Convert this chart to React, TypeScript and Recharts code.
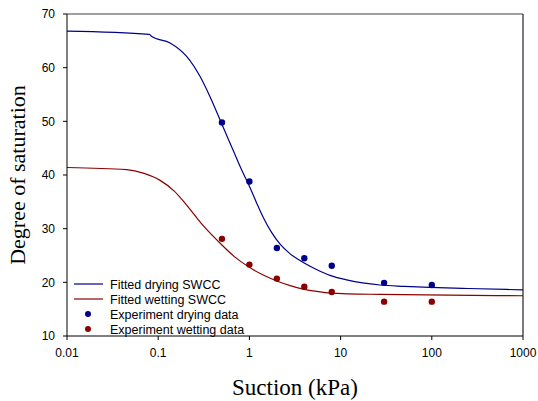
import React from 'react'
import {
  ComposedChart,
  Line,
  Scatter,
  XAxis,
  YAxis,
  ReferenceLine,
  Label,
} from 'recharts'

// fitted curves (suction kPa, degree of saturation)
const dryingCurve = [
  { x: 0.01, y: 66.8 },
  { x: 0.08, y: 66.2 },
  { x: 0.085, y: 65.8 },
  { x: 0.135, y: 64.6 },
  { x: 0.205, y: 62.1 },
  { x: 0.287, y: 58.4 },
  { x: 0.37, y: 54.6 },
  { x: 0.49, y: 49.8 },
  { x: 0.58, y: 46.9 },
  { x: 0.667, y: 44.5 },
  { x: 0.8, y: 41.4 },
  { x: 1, y: 37.9 },
  { x: 1.2, y: 34.8 },
  { x: 1.42, y: 32.1 },
  { x: 1.75, y: 29.3 },
  { x: 2.17, y: 27.1 },
  { x: 2.8, y: 25.3 },
  { x: 3.9, y: 23.7 },
  { x: 5.3, y: 22.5 },
  { x: 7.65, y: 21.3 },
  { x: 12, y: 20.4 },
  { x: 27, y: 19.5 },
  { x: 50, y: 19.25 },
  { x: 95, y: 19.05 },
  { x: 250, y: 18.85 },
  { x: 1000, y: 18.6 },
]

const wettingCurve = [
  { x: 0.01, y: 41.4 },
  { x: 0.045, y: 41.0 },
  { x: 0.07, y: 40.3 },
  { x: 0.105, y: 39.0 },
  { x: 0.15, y: 37.0 },
  { x: 0.205, y: 34.4 },
  { x: 0.31, y: 30.6 },
  { x: 0.49, y: 27.1 },
  { x: 0.695, y: 24.7 },
  { x: 1, y: 22.8 },
  { x: 1.4, y: 21.4 },
  { x: 1.96, y: 20.3 },
  { x: 2.8, y: 19.4 },
  { x: 3.9, y: 18.75 },
  { x: 5.5, y: 18.3 },
  { x: 7.7, y: 18.0 },
  { x: 27, y: 17.75 },
  { x: 1000, y: 17.5 },
]

const suction = [0.5, 1, 2, 4, 8, 30, 100]
const dryingData = [49.8, 38.8, 26.4, 24.5, 23.1, 19.9, 19.5]
const wettingData = [28.1, 23.3, 20.7, 19.2, 18.2, 16.4, 16.4]

const xTicks = [0.01, 0.1, 1, 10, 100, 1000]
const yTicks = [10, 20, 30, 40, 50, 60, 70]

const BLUE = '#00008B'
const RED = '#8B0000'

const dryingPoints = suction.map((s, i) => ({ x: s, y: dryingData[i] }))
const wettingPoints = suction.map((s, i) => ({ x: s, y: wettingData[i] }))

const tickStyle = { fontFamily: 'Liberation Sans, Arial, sans-serif', fontSize: 12, fill: '#000' }

const Dot = (props: any) => {
  const { cx, cy, fill } = props
  return <circle cx={cx} cy={cy} r={3.2} fill={fill} />
}

const legendItems = [
  { label: 'Fitted drying SWCC', color: BLUE, kind: 'line' },
  { label: 'Fitted wetting SWCC', color: RED, kind: 'line' },
  { label: 'Experiment drying data', color: BLUE, kind: 'dot' },
  { label: 'Experiment wetting data', color: RED, kind: 'dot' },
]

// legend drawn as an overlay so it doesn't eat into the plot area
const LegendBox = () => (
  <svg
    width={200}
    height={64}
    style={{ position: 'absolute', left: 70, top: 277 }}
  >
    {legendItems.map((it, i) => {
      const y = 7 + i * 15
      return (
        <g key={it.label}>
          {it.kind === 'line' ? (
            <line x1={4} x2={33} y1={y} y2={y} stroke={it.color} strokeWidth={1.2} />
          ) : (
            <circle cx={18} cy={y} r={3} fill={it.color} />
          )}
          <text
            x={40}
            y={y + 4.5}
            fontFamily="Liberation Sans, Arial, sans-serif"
            fontSize={12.5}
            fill="#000"
          >
            {it.label}
          </text>
        </g>
      )
    })}
  </svg>
)

export default function App() {
  return (
    <div style={{ position: 'absolute', left: 0, top: 0, width: 538, height: 401, background: '#fff' }}>
      <ComposedChart
        width={538}
        height={401}
        margin={{ top: 14, right: 15, bottom: 0, left: 0 }}
      >
        <XAxis
          dataKey="x"
          type="number"
          scale="log"
          domain={[0.01, 1000]}
          ticks={xTicks}
          allowDataOverflow
          tickFormatter={(v: number) => String(v)}
          height={65}
          tick={tickStyle}
          tickSize={4}
          tickMargin={8}
          stroke="#000"
          interval={0}
        >
          <Label
            value="Suction (kPa)"
            position="insideBottom"
            offset={6}
            style={{ fontFamily: 'Liberation Serif, Times New Roman, serif', fontSize: 23, fill: '#000' }}
          />
        </XAxis>
        <YAxis
          dataKey="y"
          type="number"
          domain={[10, 70]}
          ticks={yTicks}
          allowDataOverflow
          width={67}
          tick={tickStyle}
          tickSize={4}
          tickMargin={8}
          stroke="#000"
          interval={0}
        >
          <Label
            value="Degree of saturation"
            angle={-90}
            position="insideLeft"
            offset={17}
            style={{ fontFamily: 'Liberation Serif, Times New Roman, serif', fontSize: 22, fill: '#000', textAnchor: 'middle' }}
          />
        </YAxis>
        <ReferenceLine y={70} stroke="#808080" strokeWidth={1.5} ifOverflow="extendDomain" />
        <ReferenceLine x={1000} stroke="#222" strokeWidth={1.2} ifOverflow="extendDomain" />
        <Line
          data={dryingCurve}
          dataKey="y"
          type="monotone"
          stroke={BLUE}
          strokeWidth={1.2}
          dot={false}
          activeDot={false}
          isAnimationActive={false}
        />
        <Line
          data={wettingCurve}
          dataKey="y"
          type="monotone"
          stroke={RED}
          strokeWidth={1.2}
          dot={false}
          activeDot={false}
          isAnimationActive={false}
        />
        <Scatter data={dryingPoints} dataKey="y" fill={BLUE} shape={<Dot />} isAnimationActive={false} />
        <Scatter data={wettingPoints} dataKey="y" fill={RED} shape={<Dot />} isAnimationActive={false} />
      </ComposedChart>
      <LegendBox />
    </div>
  )
}
